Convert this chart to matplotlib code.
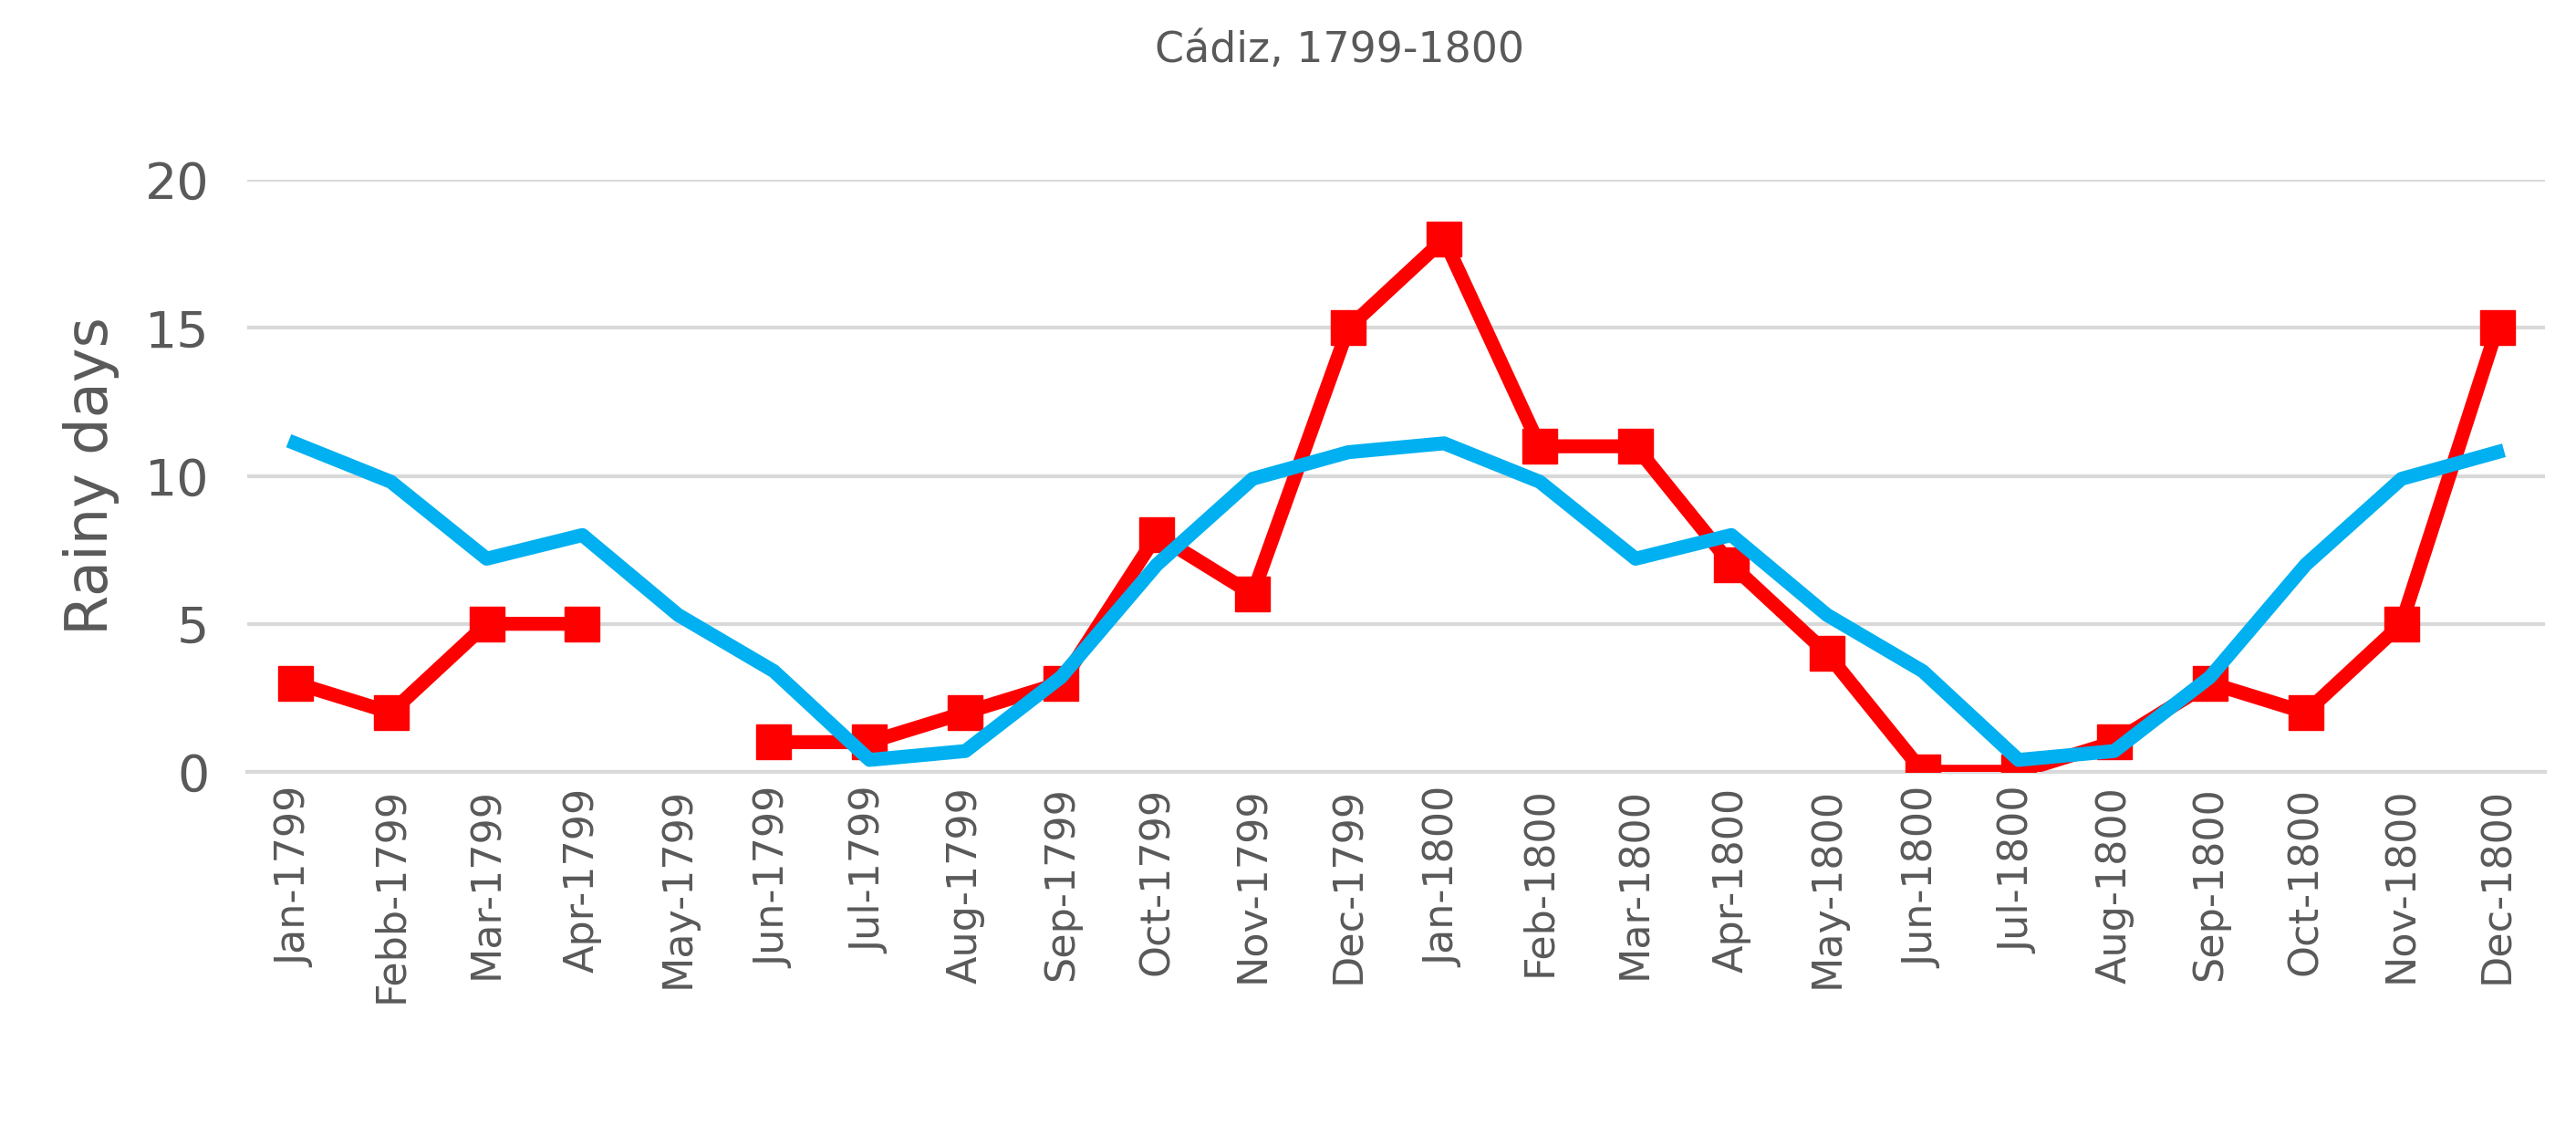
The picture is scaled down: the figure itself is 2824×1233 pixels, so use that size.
import matplotlib
matplotlib.use("Agg")
import matplotlib.pyplot as plt
import numpy as np

months = ["Jan-1799","Febb-1799","Mar-1799","Apr-1799","May-1799","Jun-1799","Jul-1799","Aug-1799","Sep-1799","Oct-1799","Nov-1799","Dec-1799",
          "Jan-1800","Feb-1800","Mar-1800","Apr-1800","May-1800","Jun-1800","Jul-1800","Aug-1800","Sep-1800","Oct-1800","Nov-1800","Dec-1800"]
observed = [3,2,5,5,np.nan,1,1,2,3,8,6,15,18,11,11,7,4,0,0,1,3,2,5,15]
climate = [11.1,9.8,7.2,8.0,5.3,3.4,0.4,0.7,3.2,7.0,9.9,10.8,11.1,9.8,7.2,8.0,5.3,3.4,0.4,0.7,3.2,7.0,9.9,10.8]

fig = plt.figure(figsize=(28.24,12.33), dpi=100)
ax = fig.add_axes([0.096,0.314,0.892,0.526])
x = np.arange(len(months))
ax.plot(x, observed, color="#FF0000", lw=11, marker="s", ms=28, zorder=3)
ax.plot(x, climate, color="#00B0F0", lw=11, zorder=4)
ax.set_xlim(-0.5, len(months)-0.5)
ax.set_ylim(0, 20)
ax.set_yticks([0,5,10,15,20])
ax.yaxis.grid(True, color="#D9D9D9", lw=3)
ax.set_axisbelow(True)
for s in ax.spines.values():
    s.set_visible(False)
ax.spines["bottom"].set_visible(True)
ax.spines["bottom"].set_color("#D9D9D9")
ax.spines["bottom"].set_linewidth(3)
ax.tick_params(length=0, labelcolor="#595959", pad=12)
ax.tick_params(axis="x", labelsize=32)
ax.tick_params(axis="y", labelsize=40, pad=30)
ax.set_xticks(x)
ax.set_xticklabels(months, rotation=90)
ax.set_ylabel("Rainy days", fontsize=46, color="#595959", labelpad=20)
fig.text(0.52, 0.955, "Cádiz, 1799-1800", fontsize=33, color="#595959", ha="center", va="center")
fig.savefig("out.png", dpi=100)
